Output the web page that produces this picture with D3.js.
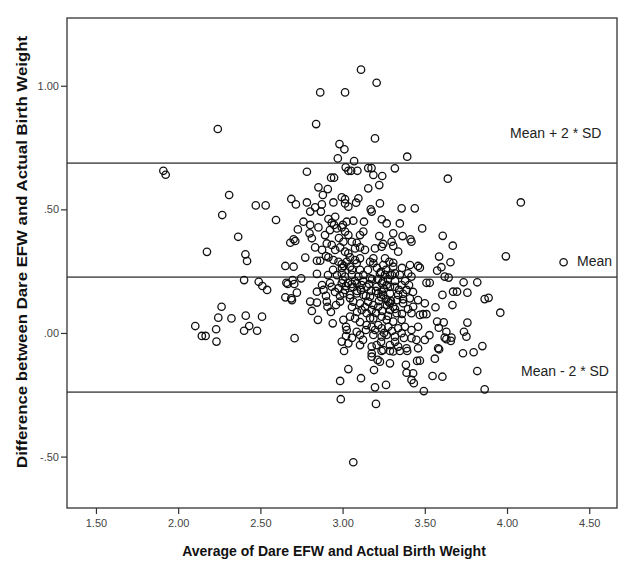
<!DOCTYPE html>
<html><head><meta charset="utf-8">
<script src="https://cdn.jsdelivr.net/npm/d3@7/dist/d3.min.js"></script>
<style>
html,body{margin:0;padding:0;background:#fff;}
svg text{font-family:"Liberation Sans",Arial,sans-serif;}
</style></head>
<body><svg id="c" width="629" height="562"></svg>
<script>
// ---- data ----
const avgWeight = [
2.241,1.910,1.924,2.310,2.472,2.532,2.268,2.365,2.175,2.409,2.419,2.401,2.490,2.512,2.541,2.264,2.244,2.324,2.411,2.510,
2.104,2.144,2.167,2.231,2.233,2.401,2.432,2.480,
2.864,3.015,2.839,2.981,3.011,2.971,3.019,3.035,2.783,2.930,2.948,
3.112,3.207,3.197,3.393,3.070,3.052,3.090,3.156,3.176,3.318,3.187,3.241,3.640,
4.084,3.484,3.609,3.670,3.993,4.344,3.587,3.656,3.470,3.575,3.601,3.621,3.645,3.510,3.530,3.736,3.819,3.607,
3.672,3.696,3.759,3.864,3.888,3.668,3.565,3.959,3.490,3.510,3.575,3.615,3.759,3.585,3.528,3.631,3.621,3.631,
3.662,3.658,3.738,3.753,3.581,3.587,3.732,3.797,3.850,3.561,3.470,3.819,3.547,3.607,3.494,3.864,
3.009,3.177,3.213,3.227,3.237,3.288,3.288,3.348,3.393,3.035,2.985,3.112,3.191,3.385,3.389,3.429,3.419,3.433,
3.453,3.197,3.264,2.989,3.203,3.065,
2.853,2.910,2.880,2.995,2.688,2.716,2.783,2.874,2.944,3.015,3.035,2.833,2.803,2.868,2.955,2.914,2.595,2.762,
2.728,2.803,2.853,2.934,2.948,2.965,2.995,3.025,3.015,3.035,2.799,2.813,2.702,2.682,2.712,2.833,2.904,2.934,
2.955,2.985,3.005,3.015,3.035,2.773,2.844,2.864,2.914,2.944,2.975,2.995,3.025,2.652,2.702,
2.844,2.658,2.666,2.696,2.706,2.748,2.722,2.652,2.688,2.692,2.844,2.884,2.934,2.975,2.995,3.021,2.803,2.844,
2.904,2.908,2.985,2.813,2.850,2.940,3.021,3.021,2.708,
3.156,3.223,3.015,3.096,3.082,3.171,3.177,3.227,3.359,3.439,3.065,3.130,3.238,3.268,3.348,3.126,3.106,3.223,
3.308,3.365,3.413,3.419,3.056,3.086,3.076,3.106,3.136,3.197,3.238,3.247,3.298,3.308,3.338,3.045,3.076,3.106,
3.167,3.187,3.258,3.284,3.308,3.459,3.045,
3.086,3.187,3.247,3.308,3.227,3.258,3.288,3.318,3.348,3.399,3.419,2.995,3.015,3.056,3.096,3.126,3.167,3.056,
3.086,3.116,3.146,3.207,3.238,3.268,3.318,3.359,3.389,3.217,3.238,3.247,3.005,3.045,3.086,3.126,3.167,3.288,
3.338,3.368,3.409,3.459,3.065,3.106,3.156,3.187,3.217,3.278,3.288,3.308,3.368,3.429,3.500,3.116,3.146,3.177,
3.288,3.328,3.419,3.470,3.045,3.076,3.005,3.187,3.238,3.268,3.308,3.359,3.146,3.177,3.217,3.238,3.278,3.338,
3.379,3.419,3.459,3.025,3.086,3.106,3.187,3.238,3.268,3.318,3.359,3.419,3.449,3.500,2.995,3.035,3.106,3.177,
3.207,3.288,3.338,3.389,3.459,3.177,3.247,3.308,
3.209,3.234,3.264,3.215,3.246,3.276,3.203,3.234,3.264,3.288,3.252,3.221,3.294,3.270,3.002,3.033,3.063,3.088,
3.015,3.045,3.075,3.112,3.142,3.124,3.161,3.173,3.319,3.343,3.367,3.404,3.380,3.428,3.331,3.057,3.088,3.136,
3.167,3.203,3.240,3.276,3.319,3.361,3.398,3.106,3.142,3.197,3.252,3.300,3.373,3.057,3.124,3.234,3.319,3.008,
3.057,3.106,3.154,3.179,3.300,3.361,3.410,2.942,2.966,2.996,2.923,2.954,2.984,2.960,2.929,2.899,2.875,2.911,
2.893,2.923,2.978,3.002,2.875,2.899
];
const diffWeight = [
0.825,0.656,0.640,0.558,0.516,0.516,0.477,0.389,0.328,0.318,0.291,0.214,0.207,0.190,0.174,0.106,0.062,0.059,0.070,0.066,
0.028,-0.012,-0.012,0.015,-0.035,0.009,0.028,0.009,
0.973,0.973,0.845,0.764,0.743,0.706,0.670,0.656,0.652,0.628,0.628,
1.065,1.012,0.787,0.713,0.695,0.656,0.656,0.667,0.667,0.666,0.639,0.635,0.624,
0.528,0.423,0.393,0.353,0.310,0.286,0.309,0.286,0.264,0.252,0.266,0.228,0.224,0.203,0.203,0.205,0.205,0.154,
0.167,0.167,0.163,0.137,0.142,0.113,0.104,0.082,0.076,0.076,0.046,0.043,0.042,0.021,-0.009,0.005,-0.019,-0.025,
-0.019,-0.032,0.005,-0.015,-0.062,-0.066,-0.082,-0.078,-0.053,-0.104,-0.112,-0.154,-0.174,-0.177,-0.235,-0.228,
-0.073,-0.096,-0.109,-0.116,-0.073,-0.123,-0.073,-0.073,-0.073,-0.146,-0.194,-0.183,-0.150,-0.129,-0.161,-0.163,-0.190,-0.203,
-0.113,-0.220,-0.210,-0.268,-0.287,-0.523,
0.589,0.582,0.558,0.549,0.542,0.520,0.528,0.520,0.528,0.524,0.511,0.508,0.491,0.491,0.470,0.461,0.457,0.450,
0.419,0.437,0.427,0.446,0.437,0.423,0.427,0.450,0.410,0.396,0.403,0.383,0.379,0.365,0.372,0.346,0.362,0.356,
0.336,0.346,0.369,0.329,0.322,0.305,0.292,0.292,0.306,0.295,0.288,0.279,0.288,0.271,0.268,
0.239,0.203,0.198,0.214,0.198,0.221,0.163,0.144,0.140,0.133,0.167,0.174,0.187,0.181,0.201,0.190,0.127,0.123,
0.127,0.106,0.127,0.089,0.053,0.039,0.025,-0.012,-0.021,
0.585,0.598,0.541,0.545,0.527,0.500,0.491,0.524,0.504,0.504,0.454,0.450,0.460,0.443,0.443,0.410,0.396,0.392,
0.403,0.392,0.379,0.369,0.369,0.365,0.342,0.346,0.336,0.342,0.349,0.360,0.369,0.352,0.329,0.306,0.295,0.302,
0.288,0.302,0.302,0.288,0.268,0.271,0.268,
0.282,0.282,0.275,0.284,0.241,0.235,0.235,0.241,0.235,0.241,0.228,0.241,0.228,0.235,0.228,0.235,0.221,0.198,
0.201,0.194,0.187,0.187,0.201,0.194,0.187,0.194,0.174,0.160,0.167,0.154,0.160,0.154,0.160,0.154,0.147,0.160,
0.154,0.136,0.140,0.133,0.127,0.120,0.127,0.113,0.106,0.127,0.120,0.106,0.120,0.106,0.120,0.093,0.080,0.093,
0.093,0.080,0.080,0.073,0.066,0.059,0.053,0.059,0.066,0.053,0.046,0.053,0.032,0.025,0.032,0.019,0.025,0.019,
0.025,0.012,0.025,0.012,0.005,-0.008,-0.008,-0.015,-0.008,-0.015,-0.001,-0.021,-0.028,-0.028,-0.035,-0.042,-0.049,-0.055,
-0.049,-0.049,-0.055,-0.062,-0.062,-0.082,-0.069,-0.075,
0.263,0.247,0.255,0.218,0.210,0.218,0.170,0.145,0.137,0.186,0.178,0.129,0.129,0.113,0.214,0.202,0.186,0.170,
0.174,0.141,0.210,0.174,0.150,0.210,0.198,0.170,0.210,0.174,0.158,0.194,0.210,0.166,0.133,0.105,0.085,0.105,
0.060,0.081,0.089,0.069,0.097,0.077,0.097,0.044,0.012,0.012,0.000,0.008,-0.020,-0.020,-0.028,-0.036,-0.036,0.271,
0.255,0.255,0.255,0.218,0.234,0.263,0.275,0.255,0.234,0.263,0.202,0.166,0.150,0.113,0.085,0.150,0.194,0.234,
0.396,0.416,0.384,0.437,0.336,0.311
];
const xTicks = [1.5, 2.0, 2.5, 3.0, 3.5, 4.0, 4.5];
const yTicks = [-0.5, 0.0, 0.5, 1.0];
const refValues = [0.687, 0.226, -0.239];
const refLabels = ["Mean + 2 * SD", "Mean", "Mean - 2 * SD"];
const xTitle = "Average of Dare EFW and Actual Birth Weight";
const yTitle = "Difference between Dare EFW and Actual Birth Weight";

// ---- layout ----
const L = 67, R = 617, T = 18, B = 508;
const labelPos = [{x: 510, dy: -25}, {x: 577, dy: -11}, {x: 521, dy: -16}];

const svg = d3.select("#c");
const x = d3.scaleLinear().domain([1.33, 4.681]).range([L + 1, R + 2]);
const y = d3.scaleLinear().domain([-0.708, 1.274]).range([B, T]);

const fmt = v => {
  const s = Math.abs(v).toFixed(2).replace(/^0\./, ".");
  return (v < 0 ? "-" : "") + s;
};

svg.append("rect").attr("x", 0).attr("y", 0).attr("width", 629).attr("height", 562).attr("fill", "#fff");

// reference lines
svg.append("g").selectAll("line").data(refValues).join("line")
  .attr("x1", L).attr("x2", R)
  .attr("y1", d => y(d)).attr("y2", d => y(d))
  .attr("stroke", "#666").attr("stroke-width", 1.7);

svg.append("g").selectAll("text").data(refLabels).join("text")
  .attr("x", (d, i) => labelPos[i].x)
  .attr("y", (d, i) => y(refValues[i]) + labelPos[i].dy)
  .attr("font-size", 14).attr("fill", "#222")
  .text(d => d);

// points
const pts = avgWeight.map((v, i) => [v, diffWeight[i]]);
svg.append("g").selectAll("circle").data(pts).join("circle")
  .attr("cx", d => x(d[0])).attr("cy", d => y(d[1])).attr("r", 3.7)
  .attr("fill", "none").attr("stroke", "#111").attr("stroke-width", 1.3);

// frame
svg.append("rect").attr("x", L).attr("y", T).attr("width", R - L).attr("height", B - T)
  .attr("fill", "none").attr("stroke", "#333").attr("stroke-width", 1.3);

// axes
const gx = svg.append("g").attr("transform", `translate(0,${B})`)
  .call(d3.axisBottom(x).tickValues(xTicks).tickFormat(fmt).tickSize(6).tickPadding(5));
const gy = svg.append("g").attr("transform", `translate(${L},0)`)
  .call(d3.axisLeft(y).tickValues(yTicks).tickFormat(fmt).tickSize(6).tickPadding(2));
[gx, gy].forEach(g => {
  g.select(".domain").remove();
  g.selectAll(".tick line").attr("stroke", "#333").attr("stroke-width", 1.2);
  g.selectAll(".tick text").attr("font-size", 11).attr("fill", "#444")
    .attr("font-family", "'Liberation Sans',Arial,sans-serif");
});

// titles
svg.append("text").attr("x", 334).attr("y", 556).attr("text-anchor", "middle")
  .attr("font-size", 14).attr("font-weight", "bold").attr("fill", "#111").text(xTitle);
svg.append("text").attr("transform", "translate(27,252) rotate(-90)").attr("text-anchor", "middle")
  .attr("font-size", 14).attr("font-weight", "bold").attr("fill", "#111")
  .attr("textLength", 432).attr("lengthAdjust", "spacingAndGlyphs").text(yTitle);
</script></body></html>
